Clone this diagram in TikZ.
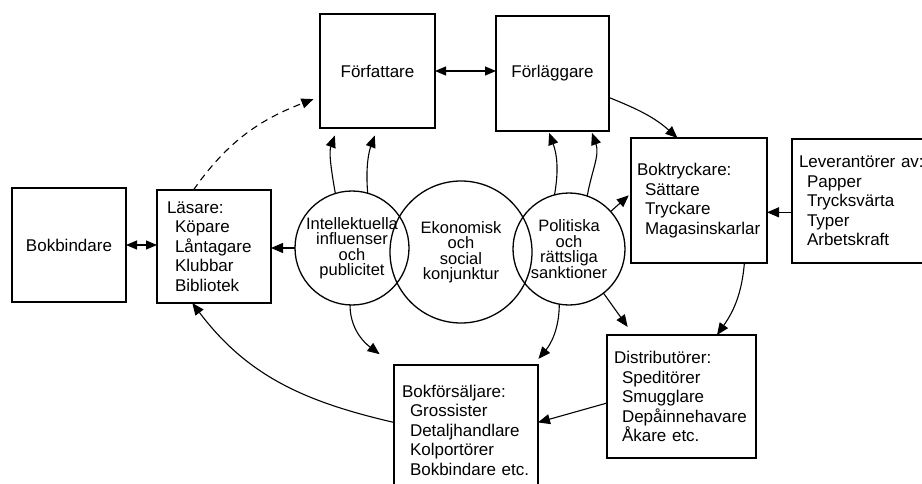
\documentclass[tikz,border=0pt]{standalone}
\usepackage{fontspec}
\setmainfont{Liberation Sans}
\usetikzlibrary{arrows.meta}
\newcommand{\indt}{\hspace*{8pt}}

\begin{document}
\begin{tikzpicture}[x=1pt,y=1pt,line width=1.1pt,
    box/.style={draw,rectangle,line width=1.3pt,inner sep=0pt,outer sep=0pt,font=\fontsize{17}{19.5}\selectfont},
    lbox/.style={box,align=left,inner xsep=8pt},
    ring/.style={draw,circle,line width=1.3pt,inner sep=0pt,outer sep=0pt,align=center,font=\fontsize{16.5}{15.5}\selectfont},
    arr/.style={-{Triangle[length=12pt,width=10pt]}},
    darr/.style={{Triangle[length=11pt,width=9pt]}-{Triangle[length=11pt,width=9pt]}}]
      \useasboundingbox (0,0) rectangle (922,-484);
      % boxes
      \node[box,minimum width=114pt,minimum height=114pt] (bokb) at (69,-245) {Bokbindare};
      \node[lbox,inner xsep=10pt,minimum width=114pt,minimum height=113pt,text width=94pt] (lasare) at (214,-246.5)
        {Läsare:\\\indt Köpare\\\indt Låntagare\\\indt Klubbar\\\indt Bibliotek};
      \node[box,minimum width=115pt,minimum height=114pt] (forf) at (377.5,-71) {Författare};
      \node[box,minimum width=113pt,minimum height=115pt] (forl) at (552.5,-73.5) {Förläggare};
      \node[lbox,inner xsep=6pt,minimum width=136pt,minimum height=125pt,text width=124pt] (boktr) at (699,-200.5)
        {Boktryckare:\\\indt Sättare\\\indt Tryckare\\\indt Magasinskarlar};
      \node[lbox,inner xsep=7pt,minimum width=143pt,minimum height=124pt,text width=129pt] (lev) at (863.5,-201)
        {Leverantörer av:\\\indt Papper\\\indt Trycksvärta\\\indt Typer\\\indt Arbetskraft};
      \node[lbox,inner xsep=7pt,minimum width=149pt,minimum height=123pt,text width=135pt] (dist) at (681.5,-396.5)
        {Distributörer:\\\indt Speditörer\\\indt Smugglare\\\indt Depåinnehavare\\\indt Åkare etc.};
      \node[lbox,minimum width=144pt,minimum height=130pt,text width=128pt] (bokf) at (466,-430)
        {Bokförsäljare:\\\indt Grossister\\\indt Detaljhandlare\\\indt Kolportörer\\\indt Bokbindare etc.};
      % circles
      \node[ring,minimum size=114pt] (intel) at (352,-248) {Intellektuella\\influenser\\och\\publicitet};
      \node[ring,minimum size=142pt] (ekon) at (461,-252) {Ekonomisk\\och\\social\\konjunktur};
      \node[ring,minimum size=112pt] (polit) at (569,-249) {Politiska\\och\\rättsliga\\sanktioner};
      % connectors
      \draw[darr] (bokb.east) -- (bokb.east -| lasare.west);
      \draw[darr] (forf.east) -- (forf.east -| forl.west);
      \draw[arr,dash pattern=on 7pt off 5pt,shorten >=7pt] (lasare.110) to[out=55,in=201] (forf.204);
      \draw[arr,shorten >=8pt] (intel.107) to[out=100,in=250] (forf.235);
      \draw[arr,shorten >=8pt] (intel.74) to[out=95,in=250] (forf.south);
      \draw[arr,shorten >=2pt] (polit.105) to[out=80,in=290] (forl.266);
      \draw[arr,shorten >=2pt] (polit.71) to[out=80,in=290] (forl.304);
      \draw[arr] (forl.337) to[out=-22,in=138] (boktr.109);
      \draw[arr,shorten >=3pt] (polit.42) -- (boktr.174);
      \draw[arr] (lev.189) -- (lev.189 -| boktr.east);
      \draw[arr] (boktr.306) to[out=-95,in=55] (dist.60);
      \draw[arr,shorten >=10pt] (polit.308) -- (dist.128);
      \draw[arr] (dist.185) -- (bokf.6);
      \draw[arr,shorten >=8pt] (polit.260) to[out=-90,in=50] (bokf.44);
      \draw[arr,shorten >=18pt] (intel.268) to[out=-90,in=143] (bokf.north west);
      \draw[arr] (bokf.174) to[out=167,in=-53] (lasare.249);
      \draw[arr] (intel.west) -- (intel.west -| lasare.east);
\end{tikzpicture}
\end{document}
